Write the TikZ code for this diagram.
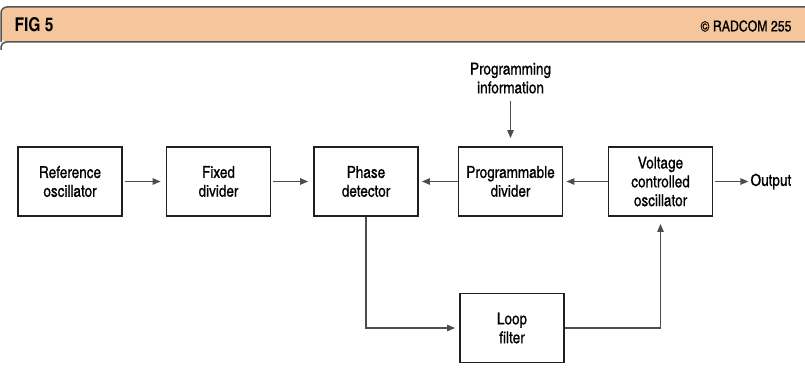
\documentclass[tikz,border=0pt]{standalone}
\usepackage{fontspec}
\setmainfont{texgyreheroscn}[Extension=.otf,UprightFont=*-regular,BoldFont=*-bold,
  UprightFeatures={FakeBold=0.8}]
\usetikzlibrary{arrows.meta,positioning}
\definecolor{headfill}{RGB}{245,197,155}
\definecolor{rulegray}{RGB}{85,85,85}
\definecolor{ink}{RGB}{35,31,32}
\tikzset{
  block/.style={draw=ink, line width=1.8pt, minimum width=104pt, minimum height=69pt,
    align=center, inner sep=0pt, font=\fontsize{16.5}{18.8}\selectfont},
  sig/.style={draw=ink!80, line width=1.2pt, -{Triangle[length=8pt,width=6.5pt]}},
  txt/.style={align=center, font=\fontsize{16.5}{18.8}\selectfont},
}
\begin{document}
\begin{tikzpicture}[x=1pt,y=-1pt]
\useasboundingbox (0,0) rectangle (805,379);
% Header strip
\fill[headfill, rounded corners=6pt] (1,42) -- (1,7) -- (815,7) -- (815,42) -- cycle;
\draw[rulegray, line width=1.5pt, rounded corners=6pt] (1,42) -- (1,7) -- (815,7);
\draw[rulegray, line width=1.5pt, rounded corners=5pt] (1,50) -- (1,42) -- (815,42);
\node[anchor=west, font=\bfseries\fontsize{19}{19}\selectfont] (fig) at (11,25) {FIG 5};
\node[anchor=east, font=\fontsize{15}{15}\selectfont] (credit) at (795,26) {© RADCOM 255};

% Blocks
\node[block] (refosc) at (70,181.5) {Reference\\oscillator};
\node[block] (fixdiv) at (218.5,181.5) {Fixed\\divider};
\node[block] (phdet) at (366,181.5) {Phase\\detector};
\node[block] (progdiv) at (510.5,181.5) {Programmable\\divider};
\node[block] (vco) at (660.5,181.5) {Voltage\\controlled\\oscillator};
\node[block] (loopfilt) at (512,328) {Loop\\filter};
\node[txt, above=49pt of progdiv] (proginfo) {Programming\\information};
\node[txt, right=35pt of vco, inner sep=2pt] (output) {Output};

% Signal paths
\draw[sig, shorten <=2pt, shorten >=5pt] (refosc) -- (fixdiv);
\draw[sig, shorten <=2pt, shorten >=5pt] (fixdiv) -- (phdet);
\draw[sig, shorten >=3pt] (progdiv) -- (phdet);
\draw[sig, shorten >=3pt] (vco) -- (progdiv);
\draw[sig, shorten <=2pt] (vco) -- (output);
\draw[sig, shorten <=4pt, shorten >=8pt] (proginfo) -- (progdiv);
\draw[sig, shorten >=4pt] (phdet.south) |- (loopfilt.west);
\draw[sig, shorten >=7pt] (loopfilt.east) -| (vco.south);
\end{tikzpicture}
\end{document}
